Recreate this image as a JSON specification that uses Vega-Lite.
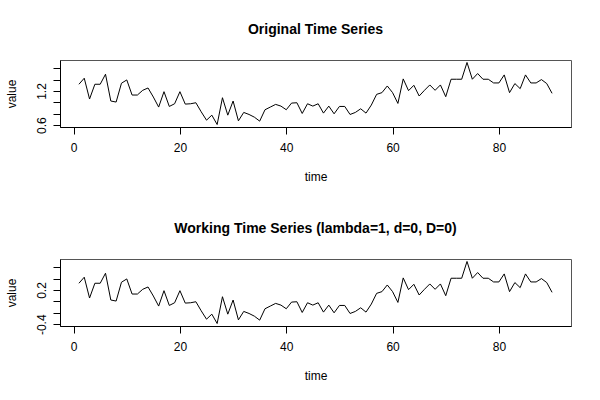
{
  "$schema": "https://vega.github.io/schema/vega-lite/v6.json",
  "padding": {"left": 4, "top": 22, "right": 30, "bottom": 10},
  "spacing": 132,
  "bounds": "flush",
  "background": "white",
  "data": {"values": [
    {"t":1,"v":1.318,"w":0.318},{"t":2,"v":1.424,"w":0.424},{"t":3,"v":1.059,"w":0.059},{"t":4,"v":1.318,"w":0.318},{"t":5,"v":1.318,"w":0.318},
    {"t":6,"v":1.494,"w":0.494},{"t":7,"v":1.024,"w":0.024},{"t":8,"v":1.006,"w":0.006},{"t":9,"v":1.336,"w":0.336},{"t":10,"v":1.394,"w":0.394},
    {"t":11,"v":1.129,"w":0.129},{"t":12,"v":1.129,"w":0.129},{"t":13,"v":1.212,"w":0.212},{"t":14,"v":1.253,"w":0.253},{"t":15,"v":1.094,"w":0.094},
    {"t":16,"v":0.918,"w":-0.082},{"t":17,"v":1.188,"w":0.188},{"t":18,"v":0.929,"w":-0.071},{"t":19,"v":0.976,"w":-0.024},{"t":20,"v":1.188,"w":0.188},
    {"t":21,"v":0.970,"w":-0.030},{"t":22,"v":0.976,"w":-0.024},{"t":23,"v":0.994,"w":-0.006},{"t":24,"v":0.835,"w":-0.165},{"t":25,"v":0.688,"w":-0.312},
    {"t":26,"v":0.776,"w":-0.224},{"t":27,"v":0.612,"w":-0.388},{"t":28,"v":1.082,"w":0.082},{"t":29,"v":0.776,"w":-0.224},{"t":30,"v":1.024,"w":0.024},
    {"t":31,"v":0.676,"w":-0.324},{"t":32,"v":0.824,"w":-0.176},{"t":33,"v":0.788,"w":-0.212},{"t":34,"v":0.741,"w":-0.259},{"t":35,"v":0.671,"w":-0.329},
    {"t":36,"v":0.871,"w":-0.129},{"t":37,"v":0.918,"w":-0.082},{"t":38,"v":0.965,"w":-0.035},{"t":39,"v":0.935,"w":-0.065},{"t":40,"v":0.871,"w":-0.129},
    {"t":41,"v":0.988,"w":-0.012},{"t":42,"v":0.994,"w":-0.006},{"t":43,"v":0.806,"w":-0.194},{"t":44,"v":0.976,"w":-0.024},{"t":45,"v":0.935,"w":-0.065},
    {"t":46,"v":0.976,"w":-0.024},{"t":47,"v":0.812,"w":-0.188},{"t":48,"v":0.935,"w":-0.065},{"t":49,"v":0.800,"w":-0.200},{"t":50,"v":0.929,"w":-0.071},
    {"t":51,"v":0.929,"w":-0.071},{"t":52,"v":0.788,"w":-0.212},{"t":53,"v":0.824,"w":-0.176},{"t":54,"v":0.888,"w":-0.112},{"t":55,"v":0.812,"w":-0.188},
    {"t":56,"v":0.953,"w":-0.047},{"t":57,"v":1.141,"w":0.141},{"t":58,"v":1.171,"w":0.171},{"t":59,"v":1.288,"w":0.288},{"t":60,"v":1.171,"w":0.171},
    {"t":61,"v":0.982,"w":-0.018},{"t":62,"v":1.412,"w":0.412},{"t":63,"v":1.206,"w":0.206},{"t":64,"v":1.300,"w":0.300},{"t":65,"v":1.112,"w":0.112},
    {"t":66,"v":1.212,"w":0.212},{"t":67,"v":1.306,"w":0.306},{"t":68,"v":1.212,"w":0.212},{"t":69,"v":1.306,"w":0.306},{"t":70,"v":1.100,"w":0.100},
    {"t":71,"v":1.406,"w":0.406},{"t":72,"v":1.406,"w":0.406},{"t":73,"v":1.406,"w":0.406},{"t":74,"v":1.700,"w":0.700},{"t":75,"v":1.406,"w":0.406},
    {"t":76,"v":1.506,"w":0.506},{"t":77,"v":1.406,"w":0.406},{"t":78,"v":1.406,"w":0.406},{"t":79,"v":1.341,"w":0.341},{"t":80,"v":1.341,"w":0.341},
    {"t":81,"v":1.482,"w":0.482},{"t":82,"v":1.171,"w":0.171},{"t":83,"v":1.330,"w":0.330},{"t":84,"v":1.241,"w":0.241},{"t":85,"v":1.482,"w":0.482},
    {"t":86,"v":1.341,"w":0.341},{"t":87,"v":1.341,"w":0.341},{"t":88,"v":1.400,"w":0.400},{"t":89,"v":1.330,"w":0.330},{"t":90,"v":1.159,"w":0.159}
  ]},
  "vconcat": [
    {
      "width": 511,
      "height": 67,
      "title": {"text": "Original Time Series"},
      "mark": {"type": "line", "color": "black", "strokeWidth": 1},
      "encoding": {
        "x": {"field": "t", "type": "quantitative",
          "scale": {"domain": [-2.56, 93.56], "nice": false, "zero": false},
          "axis": {"values": [0, 20, 40, 60, 80], "title": "time", "titleY": 49, "titleBaseline": "middle", "labelPadding": 8}},
        "y": {"field": "v", "type": "quantitative",
          "scale": {"domain": [0.5685, 1.7435], "nice": false, "zero": false},
          "axis": {"values": [0.6, 0.8, 1.0, 1.2, 1.4, 1.6],
            "labelExpr": "datum.value == 0.6 ? '0.6' : datum.value == 1.2 ? '1.2' : ''",
            "labelAngle": -90, "labelAlign": "center", "labelBaseline": "bottom", "labelPadding": 5,
            "title": "value", "titleX": -49, "titleAngle": -90, "titleBaseline": "middle", "titleAlign": "center"}}
      }
    },
    {
      "width": 511,
      "height": 67,
      "title": {"text": "Working Time Series (lambda=1, d=0, D=0)"},
      "mark": {"type": "line", "color": "black", "strokeWidth": 1},
      "encoding": {
        "x": {"field": "t", "type": "quantitative",
          "scale": {"domain": [-2.56, 93.56], "nice": false, "zero": false},
          "axis": {"values": [0, 20, 40, 60, 80], "title": "time", "titleY": 49, "titleBaseline": "middle", "labelPadding": 8}},
        "y": {"field": "w", "type": "quantitative",
          "scale": {"domain": [-0.4315, 0.7435], "nice": false, "zero": false},
          "axis": {"values": [-0.4, -0.2, 0, 0.2, 0.4, 0.6],
            "labelExpr": "datum.value == -0.4 ? '-0.4' : datum.value == 0.2 ? '0.2' : ''",
            "labelAngle": -90, "labelAlign": "center", "labelBaseline": "bottom", "labelPadding": 5,
            "title": "value", "titleX": -49, "titleAngle": -90, "titleBaseline": "middle", "titleAlign": "center"}}
      }
    }
  ],
  "config": {
    "view": {"stroke": "#555555", "strokeWidth": 1},
    "axis": {"grid": false, "domainColor": "black", "tickColor": "black", "tickSize": 7,
      "labelFont": "Liberation Sans", "labelFontSize": 12, "labelColor": "black",
      "labelFlush": false, "labelOverlap": false,
      "titleFont": "Liberation Sans", "titleFontSize": 12, "titleFontWeight": "normal", "titleColor": "black"},
    "title": {"font": "Liberation Sans", "fontSize": 14, "fontWeight": "bold", "color": "black", "anchor": "middle", "offset": 23}
  }
}
